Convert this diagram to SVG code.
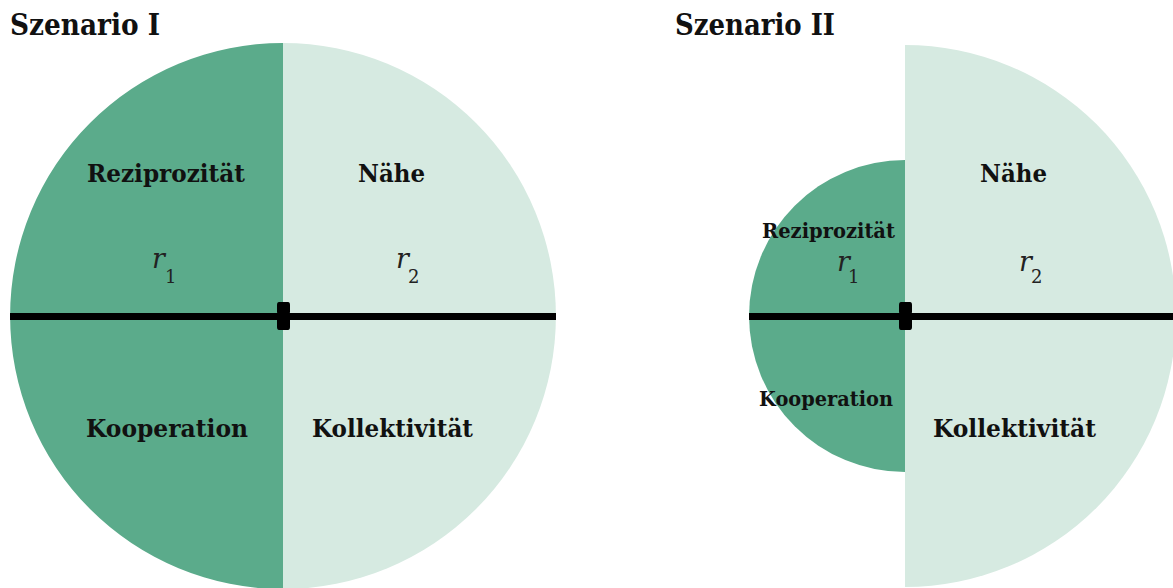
<svg xmlns="http://www.w3.org/2000/svg" width="1173" height="588" viewBox="0 0 1173 588">
<style>
.dark{fill:#5bab8b}
.light{fill:#d6eae1}
.title{font-family:"DejaVu Serif","Liberation Serif",serif;font-weight:bold;font-size:30px;fill:#111}
.lbl{font-family:"DejaVu Serif","Liberation Serif",serif;font-weight:bold;font-size:24px;fill:#111;text-anchor:middle}
.lbls{font-family:"DejaVu Serif","Liberation Serif",serif;font-weight:bold;font-size:20px;fill:#111;text-anchor:middle}
.r{font-family:"DejaVu Serif","Liberation Serif",serif;font-style:italic;font-size:27px;fill:#222}
.sub{font-family:"DejaVu Serif","Liberation Serif",serif;font-size:18px;fill:#222}
.axis{stroke:#000;stroke-width:7;fill:none}
.mark{fill:#000}
</style>
<rect width="1173" height="588" fill="#fff"/>
<g id="scenario1">
<text class="title" x="10" y="35" textLength="150" lengthAdjust="spacingAndGlyphs">Szenario I</text>
<path id="s1-left" class="dark" d="M283,43 A273,273 0 0 0 283,589 Z"/>
<path id="s1-right" class="light" d="M283,43 A273,273 0 0 1 283,589 Z"/>
<g id="s1-labels">
<text class="lbl" x="166" y="182" textLength="158" lengthAdjust="spacingAndGlyphs">Reziprozität</text>
<text class="lbl" x="391.5" y="182" textLength="67" lengthAdjust="spacingAndGlyphs">Nähe</text>
<text class="lbl" x="167" y="437" textLength="162" lengthAdjust="spacingAndGlyphs">Kooperation</text>
<text class="lbl" x="392.5" y="437" textLength="161" lengthAdjust="spacingAndGlyphs">Kollektivität</text>
<text class="r" x="152" y="268">r</text><text class="sub" x="165" y="283">1</text>
<text class="r" x="396" y="268">r</text><text class="sub" x="408" y="283">2</text>
</g>
</g>
<g id="scenario2">
<text class="title" x="675" y="35" textLength="160" lengthAdjust="spacingAndGlyphs">Szenario II</text>
<path id="s2-left" class="dark" d="M905,160 A156,156 0 0 0 905,472 Z"/>
<path id="s2-right" class="light" d="M905,45 A271,271 0 0 1 905,587 Z"/>
<g id="s2-labels">
<text class="lbls" x="828.5" y="238" textLength="133" lengthAdjust="spacingAndGlyphs">Reziprozität</text>
<text class="lbl" x="1013.5" y="182" textLength="67" lengthAdjust="spacingAndGlyphs">Nähe</text>
<text class="lbls" x="826" y="406" textLength="134" lengthAdjust="spacingAndGlyphs">Kooperation</text>
<text class="lbl" x="1014.5" y="437" textLength="163" lengthAdjust="spacingAndGlyphs">Kollektivität</text>
<text class="r" x="837" y="271">r</text><text class="sub" x="848" y="283">1</text>
<text class="r" x="1019" y="271">r</text><text class="sub" x="1031" y="283">2</text>
</g>
</g>
<g id="connectors">
<line class="axis" x1="10" y1="316.5" x2="556" y2="316.5"/>
<path class="mark" d="M279,302 h9 q2,0 2,3 v7 q-1,2 0,4 v11 q0,3 -2,3 h-9 q-2,0 -2,-3 v-11 q1,-2 0,-4 v-7 q0,-3 2,-3 Z"/>
<line class="axis" x1="749" y1="316.5" x2="1173" y2="316.5"/>
<path class="mark" d="M901,302 h9 q2,0 2,3 v7 q-1,2 0,4 v11 q0,3 -2,3 h-9 q-2,0 -2,-3 v-11 q1,-2 0,-4 v-7 q0,-3 2,-3 Z"/>
</g>
</svg>
